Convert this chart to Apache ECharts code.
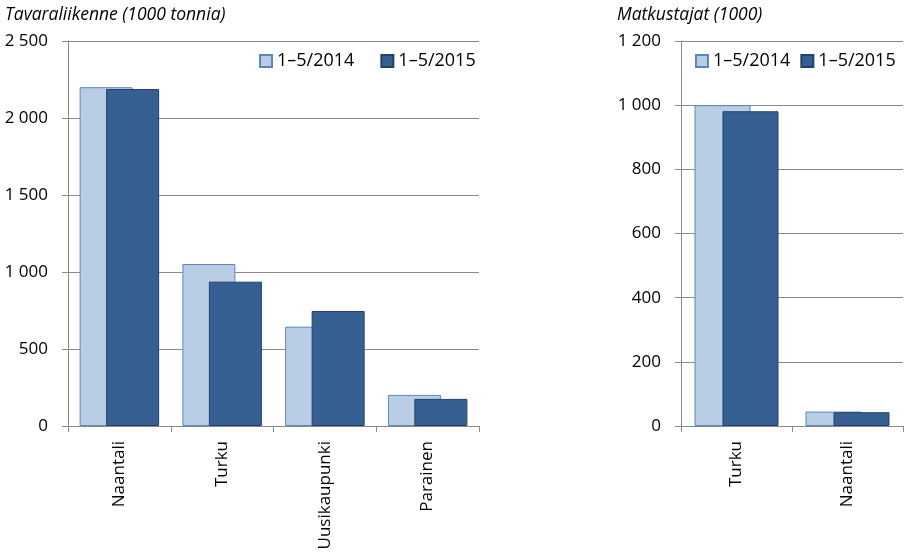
<!DOCTYPE html>
<html><head><meta charset="utf-8">
<script src="https://cdn.jsdelivr.net/npm/echarts@6/dist/echarts.min.js"></script>
<style>html,body{margin:0;padding:0;background:#fff}#c{width:904px;height:559px}</style>
</head><body><div id="c"></div>
<script>
const seriesNames = ['1–5/2014', '1–5/2015'];
const cargoCategories = ['Naantali', 'Turku', 'Uusikaupunki', 'Parainen'];
const cargo2014 = [2200, 1052, 645, 202];
const cargo2015 = [2188, 937, 747, 176];
const paxCategories = ['Turku', 'Naantali'];
const pax2014 = [1000, 45];
const pax2015 = [981, 43];
const cargoTicks = {min: 0, max: 2500, interval: 500};
const paxTicks = {min: 0, max: 1200, interval: 200};

const FONT = '"Open Sans", "Noto Sans", sans-serif';
const axisGray = '#8a8a8a';
const fmt = v => String(v).replace(/\B(?=(\d{3})+(?!\d))/g, ' ');
const lightStyle = {color: '#B9CDE5', borderColor: '#5B86C0', borderWidth: 1};
const darkStyle = {color: '#376092', borderColor: '#22406A', borderWidth: 1};

function yAxis(idx, t) {
  return {type: 'value', gridIndex: idx, min: t.min, max: t.max, interval: t.interval,
    axisLine: {show: true, lineStyle: {color: axisGray, width: 1}},
    axisTick: {show: true, length: 6, lineStyle: {color: axisGray}},
    splitLine: {show: true, lineStyle: {color: axisGray, width: 1}},
    axisLabel: {formatter: fmt, fontFamily: FONT, fontSize: 17, color: '#000', margin: 20}};
}
function xAxis(idx, cats) {
  return {type: 'category', gridIndex: idx, data: cats,
    axisLine: {show: true, lineStyle: {color: axisGray, width: 1}},
    axisTick: {show: true, length: 6, lineStyle: {color: axisGray}},
    axisLabel: {rotate: 90, fontFamily: FONT, fontSize: 17, color: '#000', margin: 15}};
}

const chart = echarts.init(document.getElementById('c'), null, {renderer: 'canvas'});
chart.setOption({
  animation: false,
  backgroundColor: '#fff',
  title: [
    {text: 'Tavaraliikenne (1000 tonnia)', left: 0, top: 1,
     textStyle: {fontFamily: FONT, fontStyle: 'italic', fontWeight: 'normal', fontSize: 17.5, color: '#000'}},
    {text: 'Matkustajat (1000)', left: 612, top: 1,
     textStyle: {fontFamily: FONT, fontStyle: 'italic', fontWeight: 'normal', fontSize: 17.5, color: '#000'}}
  ],
  legend: [
    {data: seriesNames, left: 254, top: 47, itemWidth: 12, itemHeight: 12, itemGap: 26, icon: 'rect',
     textStyle: {fontFamily: FONT, fontSize: 18, color: '#000'}, selectedMode: false},
    {data: seriesNames, left: 690, top: 47, itemWidth: 12, itemHeight: 12, itemGap: 10, icon: 'rect',
     textStyle: {fontFamily: FONT, fontSize: 18, color: '#000'}, selectedMode: false}
  ],
  grid: [
    {left: 68, top: 41, right: 425, bottom: 133},
    {left: 681, top: 41, right: 1, bottom: 133}
  ],
  xAxis: [xAxis(0, cargoCategories), xAxis(1, paxCategories)],
  yAxis: [yAxis(0, cargoTicks), yAxis(1, paxTicks)],
  series: [
    {name: seriesNames[0], type: 'bar', xAxisIndex: 0, yAxisIndex: 0, data: cargo2014, barWidth: 53, barGap: '-50%', itemStyle: lightStyle},
    {name: seriesNames[1], type: 'bar', xAxisIndex: 0, yAxisIndex: 0, data: cargo2015, barWidth: 53, barGap: '-50%', itemStyle: darkStyle},
    {name: seriesNames[0], type: 'bar', xAxisIndex: 1, yAxisIndex: 1, data: pax2014, barWidth: 56, barGap: '-50%', itemStyle: lightStyle},
    {name: seriesNames[1], type: 'bar', xAxisIndex: 1, yAxisIndex: 1, data: pax2015, barWidth: 56, barGap: '-50%', itemStyle: darkStyle}
  ]
});
</script></body></html>
